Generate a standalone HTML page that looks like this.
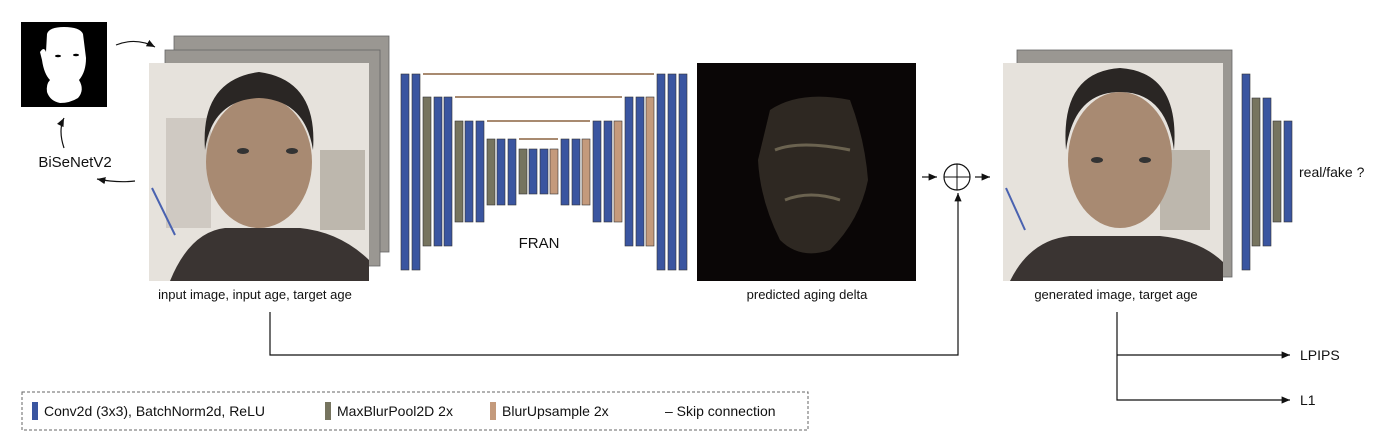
<!DOCTYPE html>
<html><head><meta charset="utf-8"><style>
body{margin:0;background:#fff;}
svg{display:block;font-family:"Liberation Sans",Arial,sans-serif;}
</style></head><body>
<svg width="1400" height="442" viewBox="0 0 1400 442">
<defs>
<marker id="ah" markerWidth="8" markerHeight="8" refX="7" refY="4" orient="auto"><path d="M0,1 L7,4 L0,7 Z" fill="#111"/></marker>
</defs>
<g>
<rect x="21" y="22" width="86" height="85" fill="#000"/>
<path d="M47,34 Q49,27 64,27 Q80,27 83,34 L86,58 Q86,72 79,80 Q85,90 78,98 Q70,103 60,103 Q50,101 47,92 Q46,84 50,80 Q44,74 42,60 L40,52 Q44,46 46,52 Z" fill="#fff"/>
<ellipse cx="58" cy="56" rx="3" ry="1.3" fill="#000"/><ellipse cx="76" cy="55" rx="3" ry="1.3" fill="#000"/>
</g>
<path d="M116,45 Q136,37 155,47" fill="none" stroke="#111" stroke-width="1.2" marker-end="url(#ah)"/>
<path d="M64,148 Q58,130 64,118" fill="none" stroke="#111" stroke-width="1.2" marker-end="url(#ah)"/>
<text x="75" y="167" font-size="15" text-anchor="middle" fill="#111">BiSeNetV2</text>
<path d="M135,181 Q117,183 97,179" fill="none" stroke="#111" stroke-width="1.2" marker-end="url(#ah)"/>
<g>
<rect x="174" y="36" width="215" height="216" fill="#9a9792" stroke="#666" stroke-width="0.8"/>
<rect x="165" y="50" width="215" height="216" fill="#9a9792" stroke="#666" stroke-width="0.8"/>
<rect x="149" y="63" width="220" height="218" fill="#e6e2dc"/>
<rect x="166" y="118" width="45" height="110" fill="#cfc9c2"/>
<rect x="320" y="150" width="45" height="80" fill="#bdb7ad"/>
<line x1="152" y1="188" x2="175" y2="235" stroke="#4a62b0" stroke-width="2"/>
<path d="M170,281 Q190,232 225,228 L300,228 Q340,232 369,260 L369,281 Z" fill="#3a3432"/>
<ellipse cx="259" cy="162" rx="53" ry="66" fill="#a88a72"/>
<path d="M205,150 Q200,80 259,72 Q318,80 313,150 Q305,100 259,98 Q212,100 205,150 Z" fill="#2a2624"/>
<ellipse cx="243" cy="151" rx="6" ry="3" fill="#333"/><ellipse cx="292" cy="151" rx="6" ry="3" fill="#333"/>
</g>
<text x="255" y="299" font-size="13" text-anchor="middle" fill="#111">input image, input age, target age</text>
<g id="fran"></g>
<text x="539" y="248" font-size="15" text-anchor="middle" fill="#111">FRAN</text>
<g>
<rect x="697" y="63" width="219" height="218" fill="#0a0606"/>
<path d="M770,110 Q800,90 850,100 Q865,140 868,180 Q860,220 830,250 Q800,260 780,240 Q760,200 758,160 Z" fill="#2e2822"/>
<path d="M775,150 Q800,140 850,150 M785,200 Q810,190 840,200" stroke="#6b6350" stroke-width="3" fill="none"/>
</g>
<text x="807" y="299" font-size="13" text-anchor="middle" fill="#111">predicted aging delta</text>
<line x1="922" y1="177" x2="937" y2="177" stroke="#111" stroke-width="1.2" marker-end="url(#ah)"/>
<g>
<circle cx="957" cy="177" r="13" fill="#fff" stroke="#111" stroke-width="1.2"/>
<line x1="944" y1="177" x2="970" y2="177" stroke="#111"/><line x1="957" y1="164" x2="957" y2="190" stroke="#111"/>
</g>
<line x1="975" y1="177" x2="990" y2="177" stroke="#111" stroke-width="1.2" marker-end="url(#ah)"/>
<path d="M270,312 L270,355 L958,355 L958,193" fill="none" stroke="#111" stroke-width="1.2" marker-end="url(#ah)"/>
<g>
<rect x="1017" y="50" width="215" height="227" fill="#9a9792" stroke="#666" stroke-width="0.8"/>
<rect x="1003" y="63" width="220" height="218" fill="#e6e2dc"/>
<rect x="1160" y="150" width="50" height="80" fill="#bdb7ad"/>
<line x1="1006" y1="188" x2="1025" y2="230" stroke="#4a62b0" stroke-width="2"/>
<path d="M1010,281 Q1030,240 1070,236 L1160,236 Q1200,240 1223,262 L1223,281 Z" fill="#3a3432"/>
<ellipse cx="1120" cy="160" rx="52" ry="68" fill="#a88a72"/>
<path d="M1066,150 Q1060,72 1120,68 Q1180,72 1174,150 Q1166,92 1120,92 Q1074,92 1066,150 Z" fill="#2a2624"/>
<ellipse cx="1097" cy="160" rx="6" ry="3" fill="#333"/><ellipse cx="1145" cy="160" rx="6" ry="3" fill="#333"/>
</g>
<text x="1116" y="299" font-size="13" text-anchor="middle" fill="#111">generated image, target age</text>
<g id="disc"></g>
<text x="1299" y="177" font-size="14" fill="#111">real/fake ?</text>
<path d="M1117,312 L1117,400 L1290,400" fill="none" stroke="#111" stroke-width="1.2" marker-end="url(#ah)"/>
<line x1="1117" y1="355" x2="1290" y2="355" stroke="#111" stroke-width="1.2" marker-end="url(#ah)"/>
<text x="1300" y="360" font-size="14" fill="#111">LPIPS</text>
<text x="1300" y="405" font-size="14" fill="#111">L1</text>
<g>
<rect x="22" y="392" width="786" height="38" fill="none" stroke="#666" stroke-dasharray="3,2"/>
<rect x="32" y="402" width="6" height="18" fill="#3a55a0"/>
<text x="44" y="416" font-size="14" fill="#111">Conv2d (3x3), BatchNorm2d, ReLU</text>
<rect x="325" y="402" width="6" height="18" fill="#76745f"/>
<text x="337" y="416" font-size="14" fill="#111">MaxBlurPool2D 2x</text>
<rect x="490" y="402" width="6" height="18" fill="#c49a7c"/>
<text x="502" y="416" font-size="14" fill="#111">BlurUpsample 2x</text>
<text x="665" y="416" font-size="14" fill="#111">– Skip connection</text>
</g>
</svg>
<script>
const ns='http://www.w3.org/2000/svg';
const C={b:'#3a55a0',o:'#76745f',t:'#c49a7c'};
const franBars=[
 [401,'b',74,270],[412,'b',74,270],
 [423,'o',97,246],[434,'b',97,246],[444,'b',97,246],
 [455,'o',121,222],[465,'b',121,222],[476,'b',121,222],
 [487,'o',139,205],[497,'b',139,205],[508,'b',139,205],
 [519,'o',149,194],[529,'b',149,194],[540,'b',149,194],[550,'t',149,194],
 [561,'b',139,205],[572,'b',139,205],[582,'t',139,205],
 [593,'b',121,222],[604,'b',121,222],[614,'t',121,222],
 [625,'b',97,246],[636,'b',97,246],[646,'t',97,246],
 [657,'b',74,270],[668,'b',74,270],[679,'b',74,270]];
const skips=[[423,654,74],[455,622,97],[487,590,121],[519,558,139]];
const discBars=[[1242,'b',74,270],[1252,'o',98,246],[1263,'b',98,246],[1273,'o',121,222],[1284,'b',121,222]];
function bar(g,d){const r=document.createElementNS(ns,'rect');
r.setAttribute('x',d[0]);r.setAttribute('y',d[2]);r.setAttribute('width',8);r.setAttribute('height',d[3]-d[2]);
r.setAttribute('fill',C[d[1]]);r.setAttribute('stroke','#333');r.setAttribute('stroke-width','0.6');


g.appendChild(r);}
const fg=document.getElementById('fran');
franBars.forEach(d=>bar(fg,d));
skips.forEach(s=>{const l=document.createElementNS(ns,'line');
l.setAttribute('x1',s[0]);l.setAttribute('x2',s[1]);l.setAttribute('y1',s[2]);l.setAttribute('y2',s[2]);
l.setAttribute('stroke','#a88a70');l.setAttribute('stroke-width','2');


fg.appendChild(l);});
const dg=document.getElementById('disc');
discBars.forEach(d=>bar(dg,d));
</script>
</body></html>
